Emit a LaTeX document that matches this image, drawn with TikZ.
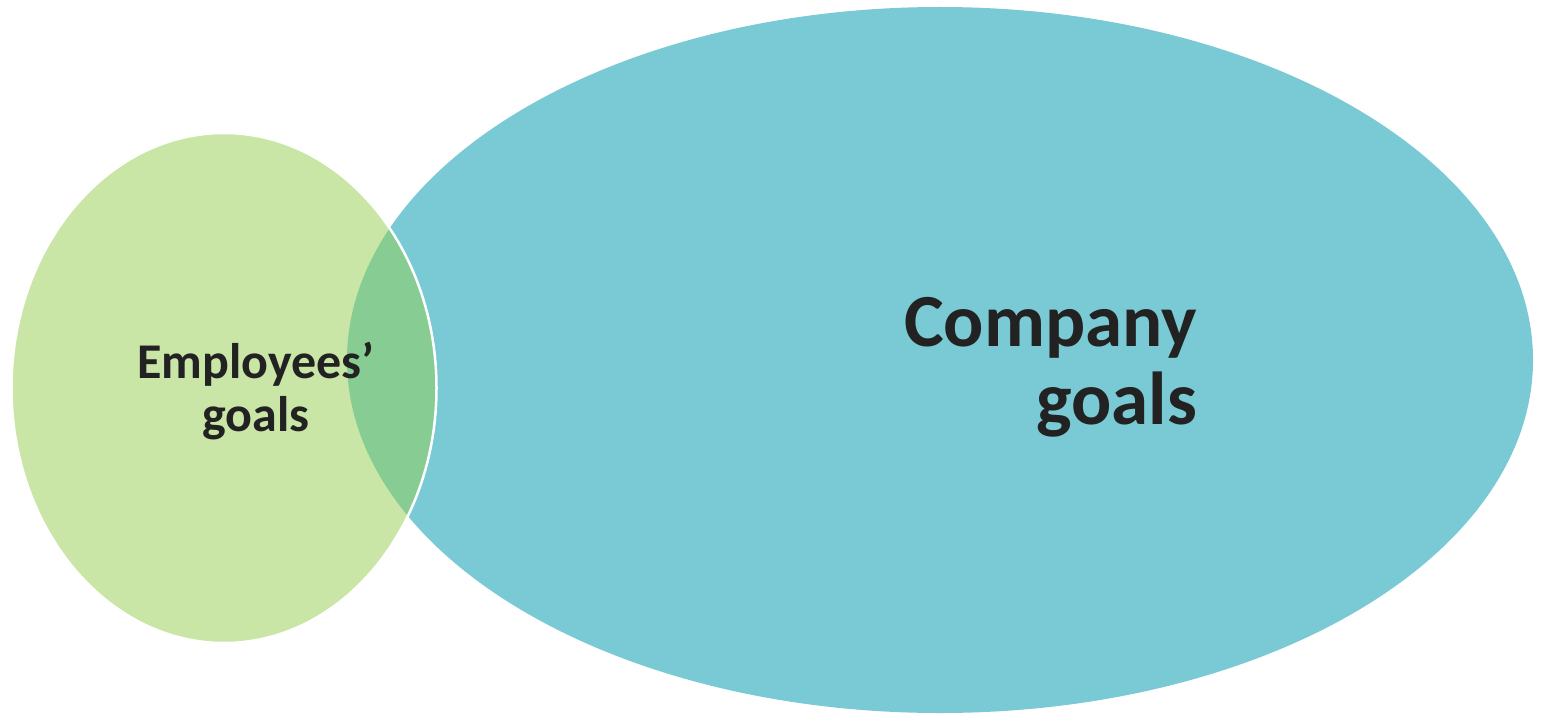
\documentclass[tikz,border=0pt]{standalone}
\usepackage{fontspec}
\setmainfont{Carlito}
\definecolor{empgreen}{HTML}{C9E6A6}
\definecolor{compblue}{HTML}{79CAD5}
\definecolor{sharedgreen}{HTML}{87CC93}
\definecolor{inkdark}{HTML}{222222}
\begin{document}
\begin{tikzpicture}[x=1pt,y=-1pt,
  goaltext/.style={inner sep=0pt,text=inkdark,font=\bfseries}]
\useasboundingbox (0,0) rectangle (1541,714);
% company goals: large ellipse
\fill[compblue] (940,360) ellipse [x radius=593,y radius=353];
% employees' goals: small ellipse
\fill[empgreen] (224,388) ellipse [x radius=212.5,y radius=255];
% shared region of both ellipses
\begin{scope}
  \clip (940,360) ellipse [x radius=593,y radius=353];
  \fill[sharedgreen] (224,388) ellipse [x radius=212.5,y radius=255];
\end{scope}
% white rim of the small ellipse
\draw[white,line width=2.5pt] (224,388) ellipse [x radius=212.5,y radius=255];
\node[goaltext,align=center,font=\fontsize{50}{53}\selectfont\bfseries] (emp) at (256,391) {Employees’\\goals};
\node[goaltext,align=right,anchor=east,font=\fontsize{75}{78}\selectfont\bfseries] (comp) at (1197,367) {Company\\goals};
\end{tikzpicture}
\end{document}
